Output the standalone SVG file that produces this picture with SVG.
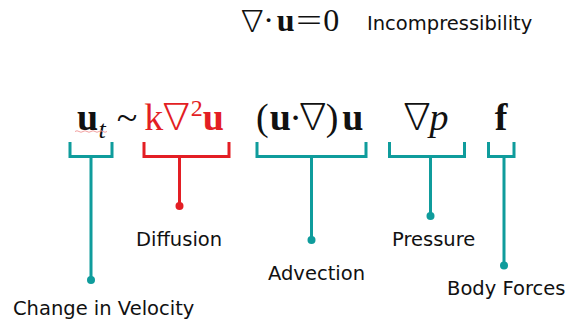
<svg xmlns="http://www.w3.org/2000/svg" width="568" height="321" viewBox="0 0 568 321">
<style>
.m{font-family:"Liberation Serif","DejaVu Serif",serif;fill:#111;text-anchor:middle}
.nab{font-family:"Noto Sans CJK JP","Noto Sans CJK SC","DejaVu Sans",sans-serif;font-weight:300;fill:#111;text-anchor:middle}
.b{font-weight:bold}
.i{font-style:italic}
.red{fill:#e31e24}
.lbl{font-family:"DejaVu Sans","Liberation Sans",sans-serif;font-size:19.5px;fill:#111}
.br{fill:none;stroke-width:3;stroke-linejoin:miter}
.teal{stroke:#0f9c9c}
.rs{stroke:#e31e24}
.dt{fill:#0f9c9c}
.dr{fill:#e31e24}
</style>
<rect width="568" height="321" fill="#fff"/>
<g id="incompressibility">
  <text class="nab" font-size="30" x="252.3" y="31">∇</text>
  <text class="m" font-size="32" x="268.7" y="31">·</text>
  <text class="m b" font-size="32" x="285.7" y="31">u</text>
  <text class="m" font-size="32" x="296" y="31" style="text-anchor:start" textLength="26" lengthAdjust="spacingAndGlyphs">=</text>
  <text class="m" font-size="32" x="331.3" y="31">0</text>
  <text class="lbl" x="367" y="29.5">Incompressibility</text>
</g>
<g id="change-in-velocity">
  <text class="m b" font-size="38" x="87.5" y="130">u</text>
  <text class="m i" font-size="26" x="102" y="138">t</text>
  <path d="M75,131.5 q2,-1.5 4,0 t4,0 t4,0 t4,0 t4,0 t4,0 t4,0 t4,0" fill="none" stroke="#f2a0a0" stroke-width="1"/>
  <text class="lbl" x="13" y="315">Change in Velocity</text>
</g>
<g id="tilde">
  <text class="m" font-size="38" x="127" y="130">~</text>
</g>
<g id="diffusion">
  <text class="m red" font-size="38" x="153.8" y="130">k</text>
  <text class="nab red" font-size="36" x="176.3" y="129">∇</text>
  <text class="m red" font-size="24" x="196.7" y="116">2</text>
  <text class="m b red" font-size="38" x="213.3" y="130">u</text>
  <text class="lbl red" x="136" y="246">Diffusion</text>
</g>
<g id="advection">
  <text class="m" font-size="38" x="262.3" y="130">(</text>
  <text class="m b" font-size="38" x="280.3" y="130">u</text>
  <text class="m" font-size="38" x="295.7" y="130">·</text>
  <text class="nab" font-size="36" x="312.7" y="129">∇</text>
  <text class="m" font-size="38" x="332" y="130">)</text>
  <text class="m b" font-size="38" x="352.7" y="130">u</text>
  <text class="lbl" x="268" y="280">Advection</text>
</g>
<g id="pressure">
  <text class="nab" font-size="36" x="417" y="129">∇</text>
  <text class="m i" font-size="38" x="439" y="130">p</text>
  <text class="lbl" x="392" y="246">Pressure</text>
</g>
<g id="body-forces">
  <text class="m b" font-size="38" x="501" y="130">f</text>
  <text class="lbl" x="447" y="295">Body Forces</text>
</g>
<g id="connectors">
  <path class="br teal" d="M70,142V156.5H112V142M91,156.5V280"/>
  <circle class="dt" cx="91" cy="280" r="4"/>
  <path class="br rs" d="M144,142V156.5H229V142M179.5,156.5V206"/>
  <circle class="dr" cx="179.5" cy="206" r="4"/>
  <path class="br teal" d="M257,142V156.5H366V142M311.5,156.5V240"/>
  <circle class="dt" cx="311.5" cy="240" r="4"/>
  <path class="br teal" d="M389.5,142V156.5H464.5V142M430.5,156.5V216"/>
  <circle class="dt" cx="430.5" cy="216" r="4"/>
  <path class="br teal" d="M488.5,142V156.5H514V142M504,156.5V265.5"/>
  <circle class="dt" cx="504" cy="265.5" r="4"/>
</g>
</svg>
